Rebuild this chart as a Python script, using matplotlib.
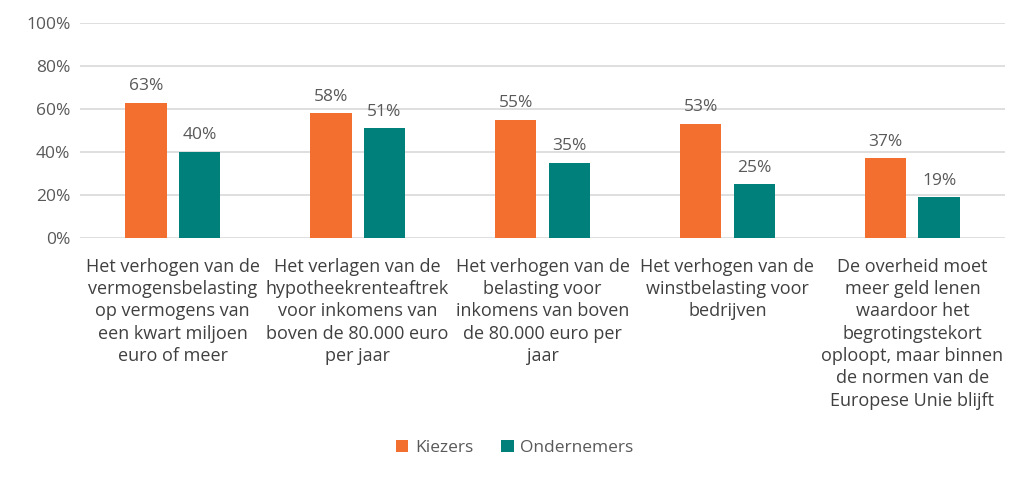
import matplotlib.pyplot as plt
import numpy as np

plt.rcParams['font.family'] = ['Open Sans', 'DejaVu Sans']

categories = [
    'Het verhogen van de\nvermogensbelasting\nop vermogens van\neen kwart miljoen\neuro of meer',
    'Het verlagen van de\nhypotheekrenteaftrek\nvoor inkomens van\nboven de 80.000 euro\nper jaar',
    'Het verhogen van de\nbelasting voor\ninkomens van boven\nde 80.000 euro per\njaar',
    'Het verhogen van de\nwinstbelasting voor\nbedrijven',
    'De overheid moet\nmeer geld lenen\nwaardoor het\nbegrotingstekort\noploopt, maar binnen\nde normen van de\nEuropese Unie blijft',
]
kiezers = [63, 58, 55, 53, 37]
ondernemers = [40, 51, 35, 25, 19]

orange = '#F26F2F'
teal = '#00807A'
grey = '#595959'

fig = plt.figure(figsize=(10.3, 4.79), dpi=100)
ax = fig.add_axes([0.0777, 0.503, 0.898, 0.449])

x = np.arange(len(categories))
w = 0.225
gap = 0.065
b1 = ax.bar(x - (w + gap) / 2, kiezers, w, color=orange, label='Kiezers', zorder=3)
b2 = ax.bar(x + (w + gap) / 2, ondernemers, w, color=teal, label='Ondernemers', zorder=3)

for bars, vals in [(b1, kiezers), (b2, ondernemers)]:
    for rect, v in zip(bars, vals):
        ax.text(rect.get_x() + rect.get_width() / 2, v + 4, f'{v}%',
                ha='center', va='bottom', fontsize=12.5, color=grey)

ax.set_ylim(0, 100)
ax.set_xlim(-0.5, len(categories) - 0.5)
ax.set_yticks(range(0, 101, 20))
ax.set_yticklabels([f'{t}%' for t in range(0, 101, 20)], fontsize=12.5, color=grey)
ax.set_xticks(x)
ax.set_xticklabels(categories, fontsize=13, color='#404040', linespacing=1.31, va='top')
ax.tick_params(axis='y', length=0, pad=7)
ax.tick_params(axis='x', length=0, pad=14)
ax.grid(axis='y', color='#D9D9D9', linewidth=1.2, zorder=0)
for s in ax.spines.values():
    s.set_visible(False)

fig.legend(handles=[b1, b2], loc='center', bbox_to_anchor=(0.5, 0.065), ncol=2,
           frameon=False, fontsize=12.5, handlelength=0.7, handleheight=0.7,
           handletextpad=0.4, columnspacing=1.6, labelcolor=grey)

fig.savefig('out.png', dpi=100)
